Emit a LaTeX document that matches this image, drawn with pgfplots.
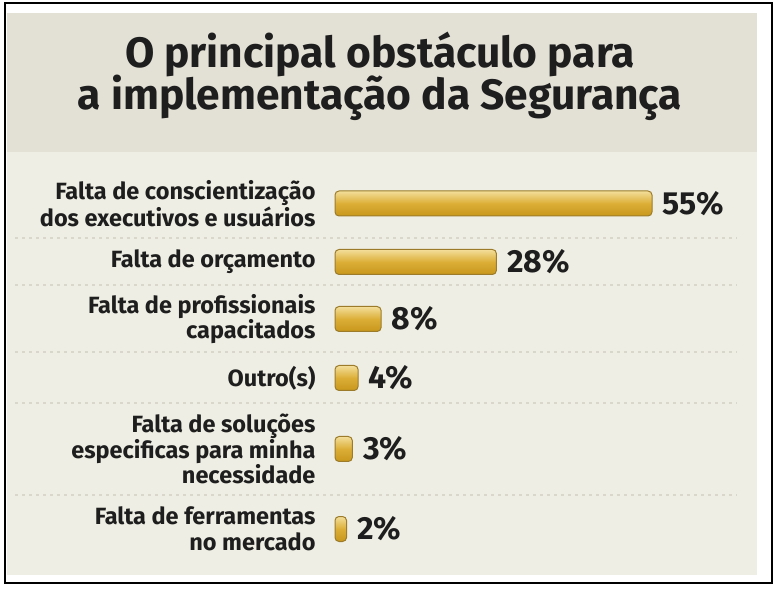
\documentclass[border=0pt]{standalone}
\usepackage{pgfplots}
\pgfplotsset{compat=1.18}
\usepackage{fontspec}
\setmainfont{Fira Sans}
\definecolor{band}{HTML}{E3E1D6}
\definecolor{body}{HTML}{EFEEE4}
\definecolor{dots}{HTML}{D9D7CC}
\definecolor{gold}{HTML}{DCAE36}
\definecolor{goldlight}{HTML}{F3DE9A}
\definecolor{golddark}{HTML}{C8971C}
\definecolor{goldedge}{HTML}{9C7C2A}
\definecolor{txt}{HTML}{1E1E1E}
\begin{document}
\begin{tikzpicture}[x=1pt,y=1pt]
% background, frame and panels
\fill[white] (0,0) rectangle (781,589);
\fill[band] (7,576) rectangle (757,437);
\fill[body] (7,437) rectangle (757,14);
\draw[line width=2pt, black] (5,586) rectangle (772,6);
% title
\node[anchor=base, font=\fontsize{42.5}{45}\selectfont\bfseries, text=txt] at (380,521) {O principal obstáculo para};
\node[anchor=base, font=\fontsize{42.5}{45}\selectfont\bfseries, text=txt] at (380,479) {a implementação da Segurança};
% dotted separators
\foreach \yy in {238,285,352,403,495} {
  \draw[dots, line width=2.6pt, dash pattern=on 2.6pt off 4.4pt] (15,589-\yy) -- (737,589-\yy);
}
\begin{axis}[
  at={(335pt,29pt)}, anchor=south west,
  scale only axis, width=317pt, height=380pt,
  xmin=0, xmax=55, ymin=29, ymax=409,
  xbar, bar width=25pt, bar shift=0pt,
  axis line style={draw=none}, major tick length=0pt,
  xtick=\empty,
  ytick={385.5,327,270,211,140,60},
  yticklabels={{Falta de conscientização\\dos executivos e usuários},
               {Falta de orçamento},
               {Falta de profissionais\\capacitados},
               {Outro(s)},
               {Falta de soluções\\especificas para minha\\necessidade},
               {Falta de ferramentas\\no mercado}},
  yticklabel style={align=right, anchor=east, xshift=-16pt, text=txt,
    font=\fontsize{23.5}{25.5}\selectfont\bfseries},
  clip=false,
  /pgf/number format/assume math mode=true,
  nodes near coords={\pgfmathprintnumber{\pgfplotspointmeta}\%},
  point meta=x,
  every node near coord/.append style={anchor=west, xshift=7pt, text=txt,
    font=\fontsize{32}{34}\selectfont\bfseries},
  barstyle/.style={draw=goldedge, line width=1pt, rounded corners=4pt,
    top color=goldlight, bottom color=golddark, middle color=gold},
]
\addplot[barstyle] coordinates {(55,385.5)};
\addplot[barstyle] coordinates {(28,327)};
\addplot[barstyle] coordinates {(8,270)};
\addplot[barstyle] coordinates {(4,211)};
\addplot[barstyle] coordinates {(3,140)};
\addplot[barstyle] coordinates {(2,60)};
\end{axis}
\end{tikzpicture}
\end{document}
